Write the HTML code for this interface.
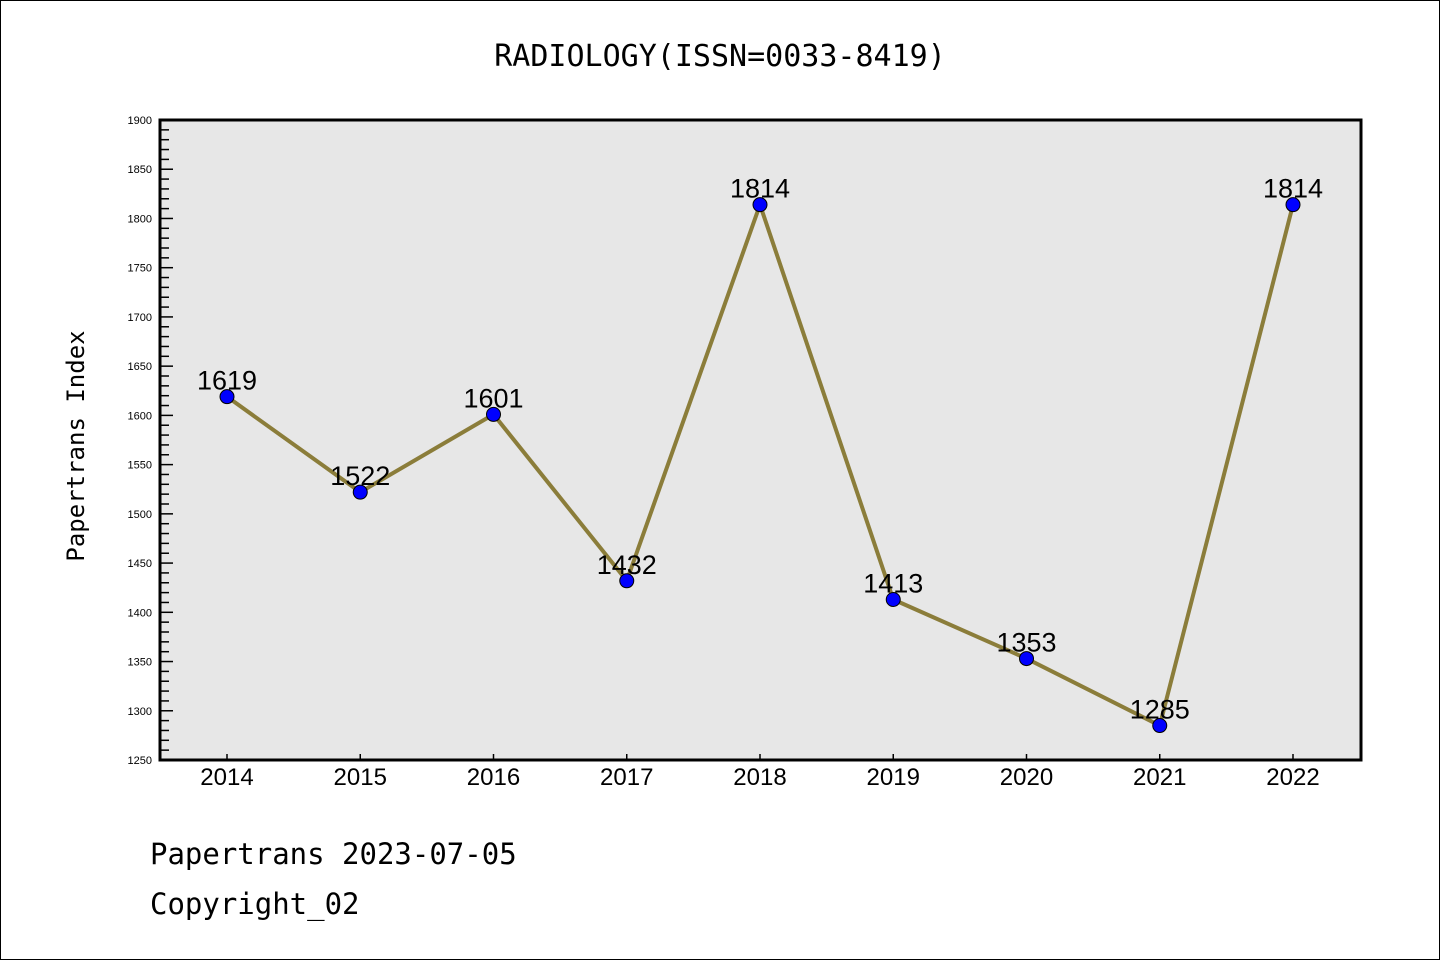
<!DOCTYPE html>
<html><head><meta charset="utf-8"><style>
body{margin:0;background:#fff}
svg{display:block;font-family:"Liberation Sans","DejaVu Sans",sans-serif}
</style></head><body>
<svg id="c" width="1440" height="960">
<rect x="0.5" y="0.5" width="1439" height="959" fill="#fff" stroke="#000"/>
<text x="720" y="66" font-size="30" text-anchor="middle" font-family="'DejaVu Sans Mono','Liberation Mono',monospace">RADIOLOGY(ISSN=0033-8419)</text>
<rect x="160" y="120" width="1201" height="640" fill="#e7e7e7"/>
<g id="ticks"></g>
<g id="series"></g>
<rect x="160" y="120" width="1201" height="640" fill="none" stroke="#000" stroke-width="3"/>
<text transform="translate(84,446) rotate(-90)" font-size="24" text-anchor="middle" font-family="'DejaVu Sans Mono','Liberation Mono',monospace">Papertrans Index</text>
<text x="150" y="864" font-size="29" font-family="'DejaVu Sans Mono','Liberation Mono',monospace">Papertrans 2023-07-05</text>
<text x="150" y="914" font-size="29" font-family="'DejaVu Sans Mono','Liberation Mono',monospace">Copyright_02</text>
</svg>
<script>
const categories=["2014","2015","2016","2017","2018","2019","2020","2021","2022"];
const values=[1619,1522,1601,1432,1814,1413,1353,1285,1814];
const yTicks=[1250,1300,1350,1400,1450,1500,1550,1600,1650,1700,1750,1800,1850,1900];
const NS="http://www.w3.org/2000/svg";
const L=160,R=1361,T=120,B=760,yMin=1250,yMax=1900;
const xs=i=>227+i*(1293-227)/(categories.length-1);
const ys=v=>B-(v-yMin)/(yMax-yMin)*(B-T);
function mk(t,a,p){const e=document.createElementNS(NS,t);for(const k in a)e.setAttribute(k,a[k]);p.appendChild(e);return e;}
const tg=document.getElementById('ticks'),sg=document.getElementById('series');
for(let v=yMin;v<=yMax;v+=10){const maj=(v%50===0);const y=ys(v);
 const l=mk('line',{x1:L,x2:L+(maj?13:9),y1:y,y2:y,stroke:'#000','stroke-width':1.5},tg);
 
 }
yTicks.forEach(v=>{const t=mk('text',{x:152,y:ys(v)+4,'font-size':11,'text-anchor':'end'},tg);t.textContent=v;
 
 });
categories.forEach((c,i)=>{const x=xs(i);
 const l=mk('line',{x1:x,x2:x,y1:B,y2:B-6,stroke:'#000','stroke-width':1.5},tg);
 
 
 const t=mk('text',{x:x,y:785,'font-size':24,'text-anchor':'middle'},tg);t.textContent=c;
 
 });
const pts=values.map((v,i)=>xs(i)+','+ys(v)).join(' ');
const pl=mk('polyline',{points:pts,fill:'none',stroke:'#8b7d3a','stroke-width':4,'stroke-linejoin':'round'},sg);


values.forEach((v,i)=>{
 const c=mk('circle',{cx:xs(i),cy:ys(v),r:7,fill:'#0000ff',stroke:'#000','stroke-width':1},sg);
 
 
 const t=mk('text',{x:xs(i),y:ys(v)-7,'font-size':27,'text-anchor':'middle'},sg);t.textContent=v;
 
 });
</script>
</body></html>
